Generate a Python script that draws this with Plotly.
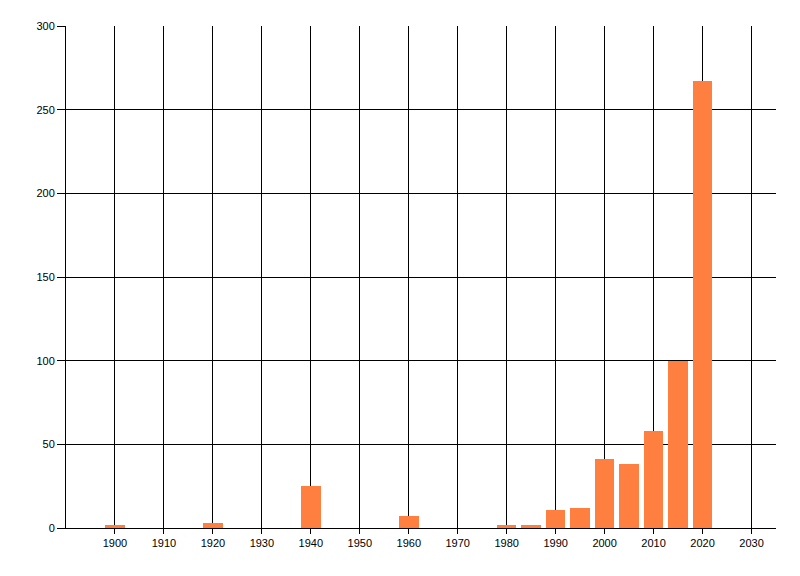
import plotly.graph_objects as go

# Counts per year bucket
years = [1900, 1920, 1940, 1960, 1980, 1985, 1990, 1995, 2000, 2005, 2010, 2015, 2020]
counts = [2, 3, 25, 7, 2, 2, 11, 12, 41, 38, 58, 100, 267]

# x tick labels (no label at the left edge)
x_ticks = [1900, 1910, 1920, 1930, 1940, 1950, 1960, 1970, 1980, 1990, 2000, 2010, 2020, 2030]

fig = go.Figure()
fig.add_bar(x=years, y=counts, width=4, marker=dict(color='#FF7F40', line=dict(width=0)))

# page body has an 8px margin, so figure is sized/offset to land the plot where it should be
fig.update_layout(width=792, height=568, margin=dict(l=58, r=24, t=18, b=48),
                  plot_bgcolor='white', paper_bgcolor='white', showlegend=False,
                  font=dict(family='Liberation Sans, Arial, sans-serif', size=11, color='black'),
                  bargap=0)

fig.update_xaxes(range=[1890, 2035], tickvals=x_ticks, showgrid=True, gridcolor='black', gridwidth=1,
                 showline=True, linecolor='black', linewidth=1, ticks='outside', ticklen=5,
                 tickcolor='black', zeroline=False, fixedrange=True)
fig.update_yaxes(range=[0, 300], dtick=50, showgrid=True, gridcolor='black', gridwidth=1,
                 showline=True, linecolor='black', linewidth=1, ticks='outside', ticklen=8,
                 tickcolor='black', zeroline=False, fixedrange=True)

fig.write_html("out.html")
